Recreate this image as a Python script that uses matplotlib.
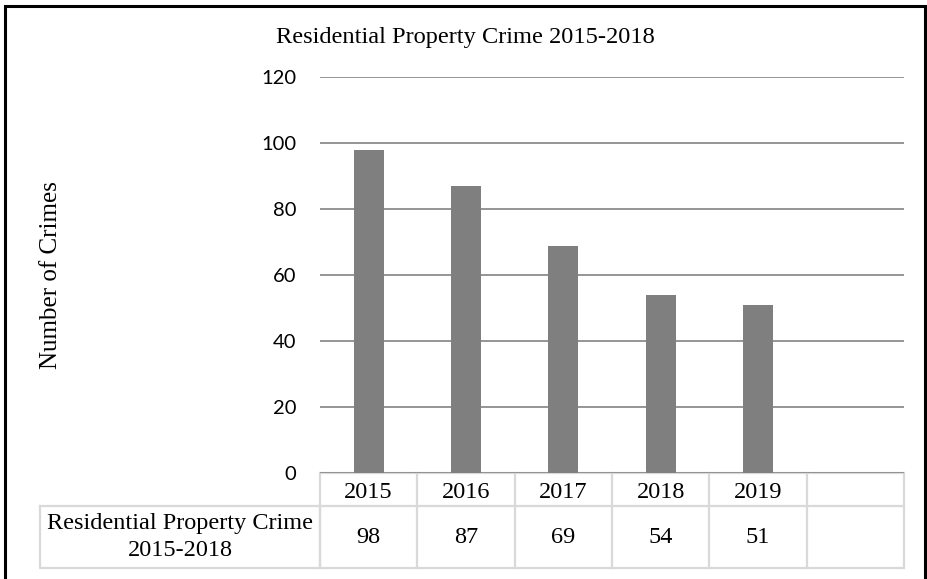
import matplotlib
matplotlib.use("Agg")
import matplotlib.pyplot as plt
from matplotlib.transforms import blended_transform_factory
from matplotlib.lines import Line2D

title = "Residential Property Crime 2015-2018"
years = ["2015", "2016", "2017", "2018", "2019", ""]
crimes = [98, 87, 69, 54, 51, None]
y_ticks = [0, 20, 40, 60, 80, 100, 120]
series_name = "Residential Property Crime\n2015-2018"
y_label = "Number of Crimes"

serif = ["Liberation Serif", "DejaVu Serif"]
tick_font = ["Lato", "DejaVu Sans"]
bar_color = "#7f7f7f"
grid_color = "#8c8c8c"
table_color = "#d9d9d9"

fig = plt.figure(figsize=(9.28, 5.79), dpi=100)
ax = fig.add_axes([0.3448, 0.1826, 0.6293, 0.6839])

positions = list(range(len(years)))
bar_pos = [p for p, v in zip(positions, crimes) if v is not None]
bar_val = [v for v in crimes if v is not None]
ax.bar(bar_pos, bar_val, width=0.31, color=bar_color, zorder=3)

ax.set_xlim(-0.5, len(years) - 0.5)
ax.set_ylim(y_ticks[0], y_ticks[-1])
ax.set_yticks(y_ticks)
ax.set_yticklabels([str(t) for t in y_ticks], family=tick_font, fontsize=14.5)
ax.tick_params(axis="y", length=0, pad=17)
ax.set_xticks([])
ax.grid(axis="y", color=grid_color, linewidth=1.3, zorder=0)
for s in ax.spines.values():
    s.set_visible(False)

# data table under the plot
tr = blended_transform_factory(ax.transData, ax.transAxes)
row1 = -0.083
row2 = -0.24
x0, x1 = -0.5, len(years) - 0.5
lw = 1.6
for yy in (0, row1, row2):
    ax.add_line(Line2D([x0, x1], [yy, yy], transform=tr, color=table_color,
                       lw=lw, clip_on=False, zorder=1))
for xx in [p - 0.5 for p in positions] + [x1]:
    ax.add_line(Line2D([xx, xx], [0, row2], transform=tr, color=table_color,
                       lw=lw, clip_on=False, zorder=1))
for p, yr, v in zip(positions, years, crimes):
    ax.text(p, row1 / 2 - 0.006, yr, transform=tr, ha="center", va="center",
            family=serif, fontsize=17.5)
    if v is not None:
        ax.text(p, (row1 + row2) / 2, str(v), transform=tr, ha="center",
                va="center", family=serif, fontsize=17.5)

# row header cell
hx0 = -0.4795
ax.add_line(Line2D([hx0, 0, 0, hx0, hx0], [row1, row1, row2, row2, row1],
                   transform=ax.transAxes, color=table_color, lw=lw,
                   clip_on=False, zorder=1))
ax.text(hx0 / 2, (row1 + row2) / 2, series_name, transform=ax.transAxes,
        ha="center", va="center", family=serif, fontsize=17.5,
        linespacing=1.35)

fig.text(0.5011, 0.936, title, ha="center", va="center", family=serif,
         fontsize=17.6)
fig.text(0.055, 0.525, y_label, rotation=90, ha="center", va="center",
         family=serif, fontsize=18)

# outer chart frame
fig.add_artist(plt.Rectangle((0.005, -0.01), 0.992, 1.0, transform=fig.transFigure,
                             fill=False, edgecolor="black", linewidth=2.2))

fig.savefig("out.png", dpi=100, facecolor="white")
